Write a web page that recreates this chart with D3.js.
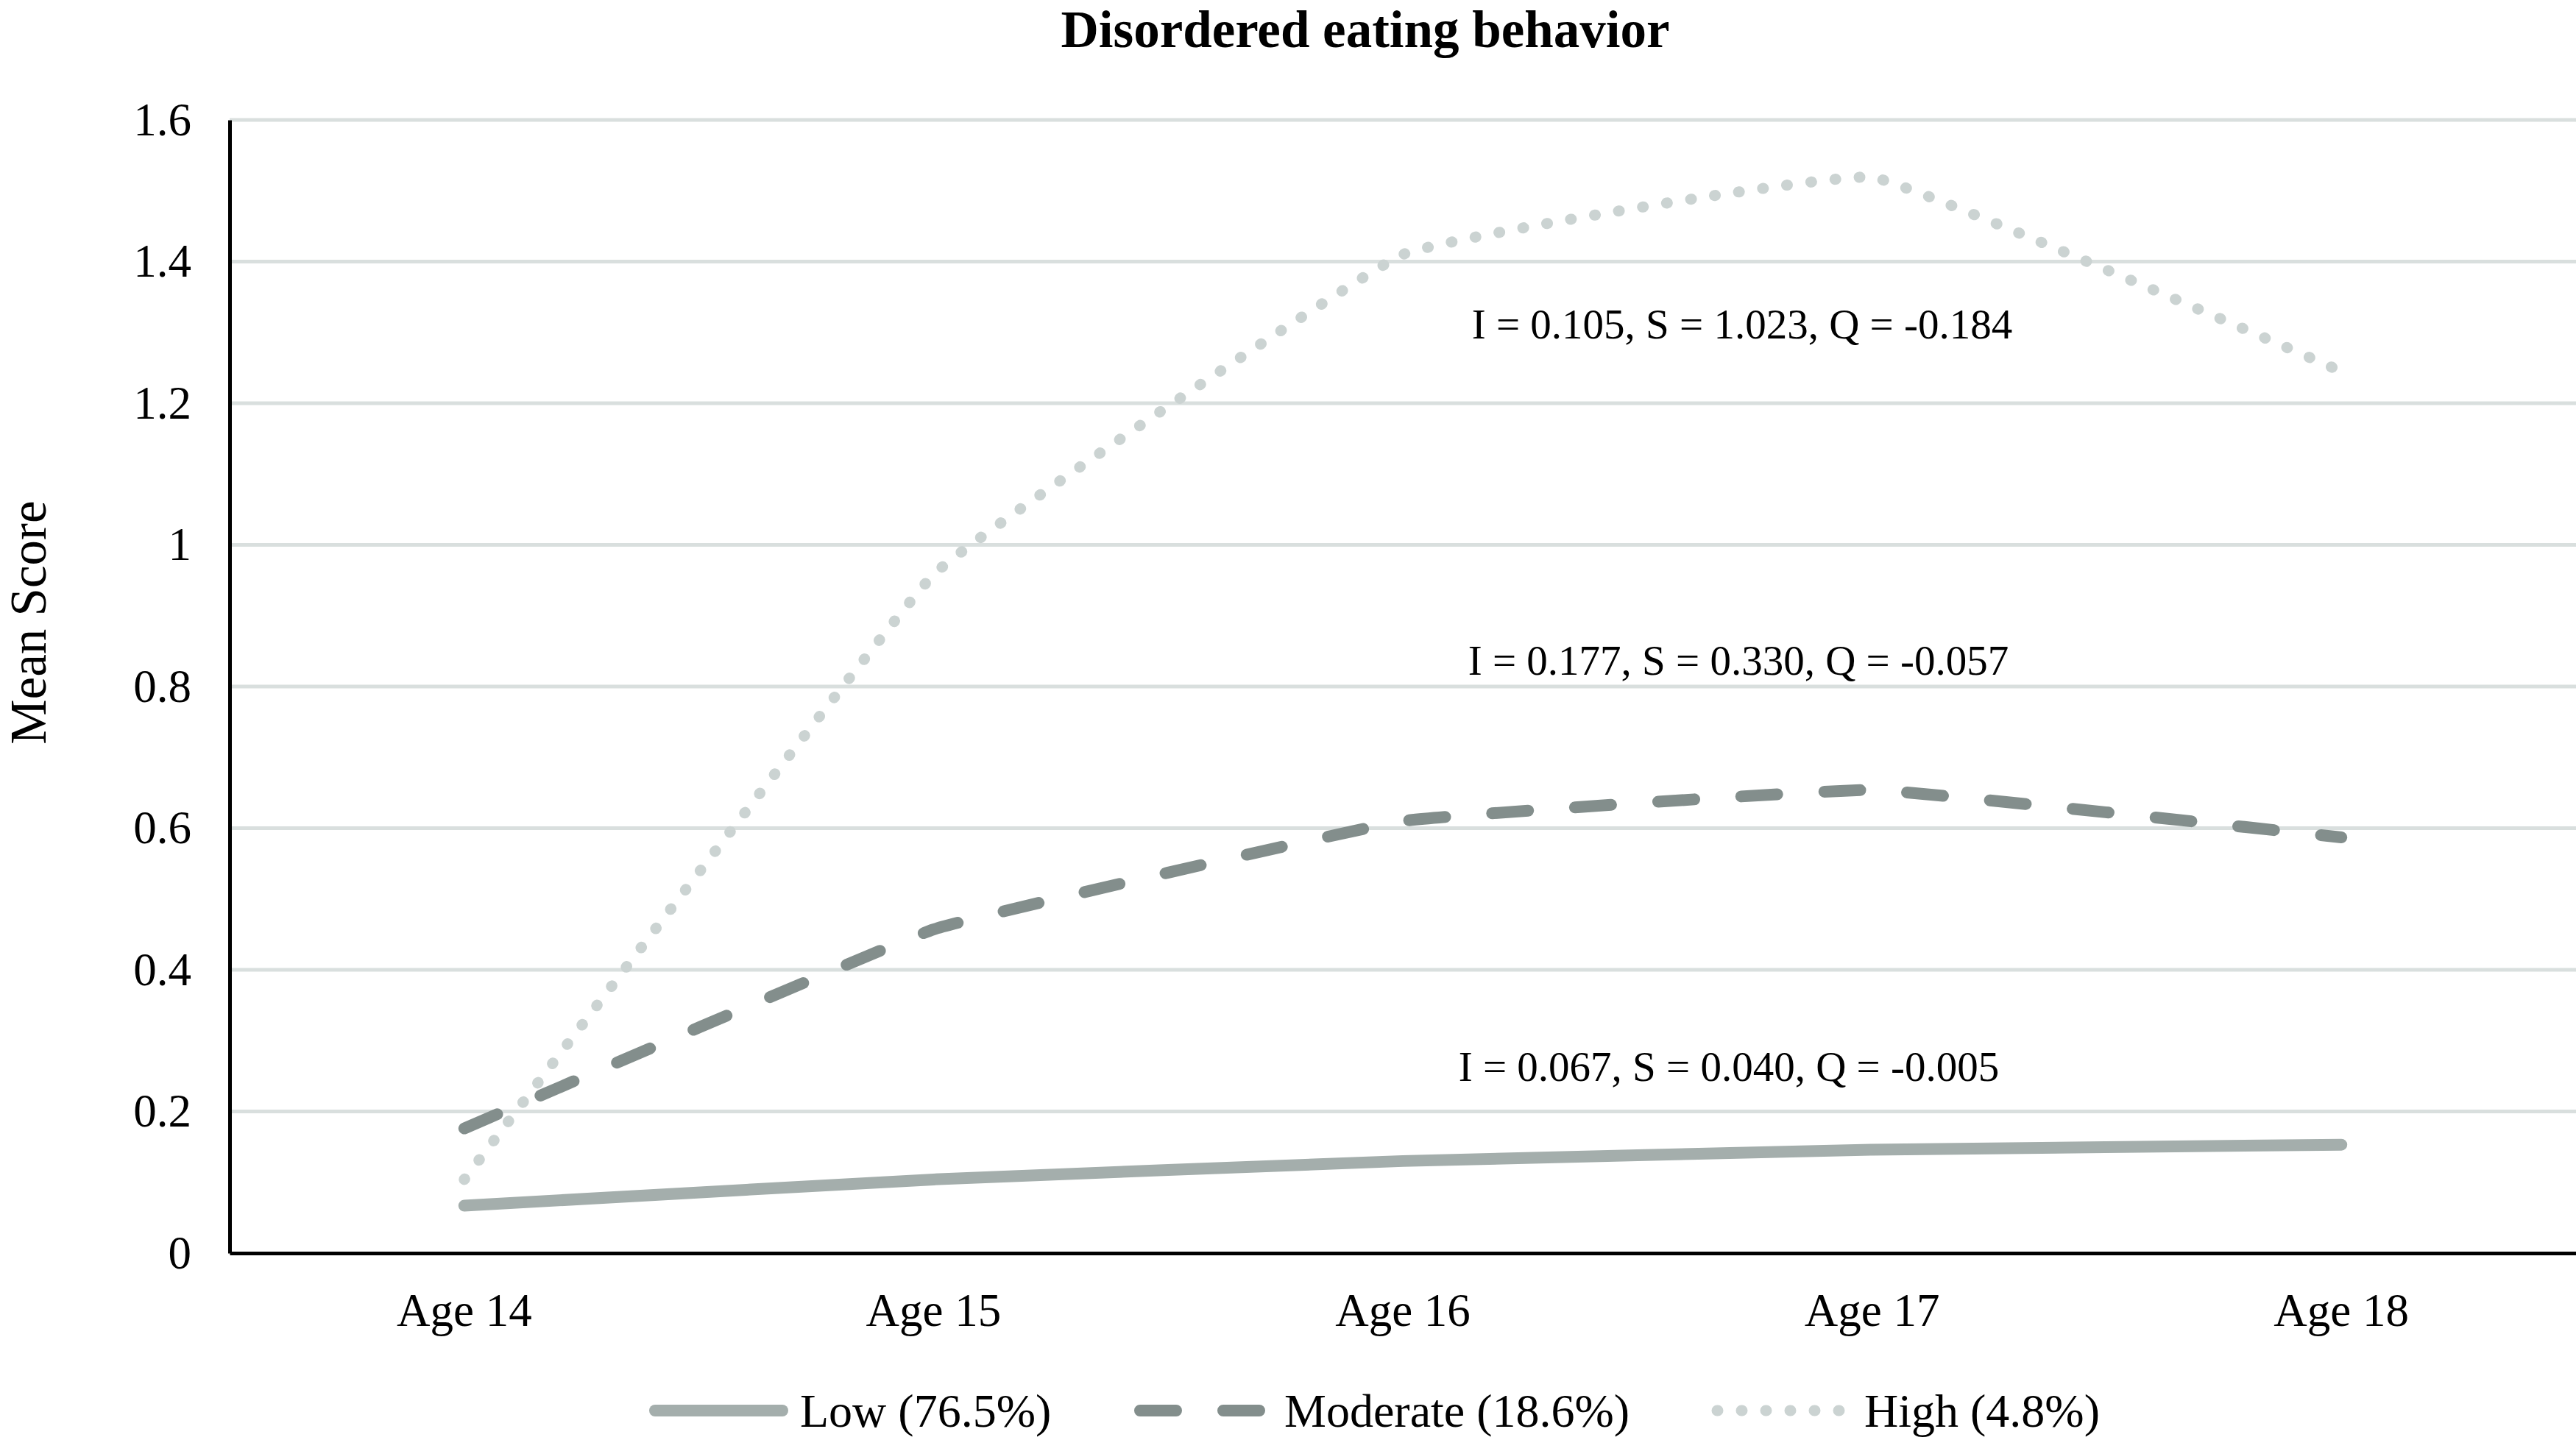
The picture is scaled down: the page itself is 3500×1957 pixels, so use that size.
<!DOCTYPE html>
<html>
<head>
<meta charset="utf-8">
<script src="https://cdn.jsdelivr.net/npm/d3@7"></script>
<style>
  html, body { margin: 0; padding: 0; background: #ffffff; }
  svg { display: block; }
  text { font-family: "Liberation Serif", "Times New Roman", serif; fill: #000; }
</style>
</head>
<body>
<svg id="chart" width="3500" height="1957"></svg>
<script>
// ---- data ----
const categories = ["Age 14", "Age 15", "Age 16", "Age 17", "Age 18"];
const lowValues = [0.067, 0.104, 0.130, 0.146, 0.153];
const moderateValues = [0.176, 0.457, 0.610, 0.654, 0.587];
const highValues = [0.104, 0.958, 1.410, 1.519, 1.245];
const yTickValues = [0, 0.2, 0.4, 0.6, 0.8, 1.0, 1.2, 1.4, 1.6];
const seriesNames = ["Low (76.5%)", "Moderate (18.6%)", "High (4.8%)"];
const annotationTexts = [
  "I = 0.067, S = 0.040, Q = -0.005",
  "I = 0.177, S = 0.330, Q = -0.057",
  "I = 0.105, S = 1.023, Q = -0.184"
];
const titleText = "Disordered eating behavior";
const yAxisTitle = "Mean Score";

// ---- layout / styles ----
const svg = d3.select("#chart");
const plot = { left: 312, right: 3500, top: 163, bottom: 1703 };

const x = d3.scaleBand().domain(categories).range([plot.left, plot.right]);
const y = d3.scaleLinear().domain([0, 1.6]).range([plot.bottom, plot.top]);
const cx = c => x(c) + x.bandwidth() / 2;

const styles = [
  { color: "#a4aeac", width: 16, dash: null },
  { color: "#838e8c", width: 16, dash: "49,64" },
  { color: "#cbd3d2", width: 15, dash: "1,32" }
];
const seriesValues = [lowValues, moderateValues, highValues];

// gridlines
svg.append("g")
  .selectAll("line")
  .data(yTickValues.filter(v => v > 0))
  .join("line")
  .attr("x1", plot.left).attr("x2", plot.right)
  .attr("y1", d => y(d)).attr("y2", d => y(d))
  .attr("stroke", "#d9dfde").attr("stroke-width", 5);

// y axis
const yAxis = d3.axisLeft(y).tickValues(yTickValues).tickSize(0).tickPadding(52)
  .tickFormat(d => String(+d.toFixed(1)));
const gy = svg.append("g").attr("transform", `translate(${plot.left},0)`).call(yAxis);
gy.select(".domain").attr("stroke", "#000").attr("stroke-width", 5);
gy.selectAll("text").attr("font-size", 63).attr("font-family", "Liberation Serif").attr("fill", "#000");

// x axis
const xAxis = d3.axisBottom(x).tickSize(0).tickPadding(54);
const gx = svg.append("g").attr("transform", `translate(0,${plot.bottom})`).call(xAxis);
gx.select(".domain").attr("stroke", "#000").attr("stroke-width", 5);
gx.selectAll("text").attr("font-size", 63).attr("font-family", "Liberation Serif").attr("fill", "#000");

// lines
const line = d3.line()
  .x((d, i) => cx(categories[i]))
  .y(d => y(d))
  .curve(d3.curveCardinal.tension(0.75));

seriesValues.forEach((vals, si) => {
  const s = styles[si];
  svg.append("path")
    .datum(vals)
    .attr("d", line)
    .attr("fill", "none")
    .attr("stroke", s.color)
    .attr("stroke-width", s.width)
    .attr("stroke-linecap", "round")
    .attr("stroke-linejoin", "round")
    .attr("stroke-dasharray", s.dash);
});

// annotations
const annoPos = [
  { x: 2349, y: 1469 },
  { x: 2362, y: 917 },
  { x: 2367, y: 460 }
];
svg.append("g").selectAll("text")
  .data(annotationTexts)
  .join("text")
  .attr("x", (d, i) => annoPos[i].x)
  .attr("y", (d, i) => annoPos[i].y)
  .attr("text-anchor", "middle")
  .attr("font-size", 57)
  .text(d => d);

// title
svg.append("text")
  .attr("x", 1855).attr("y", 64)
  .attr("text-anchor", "middle")
  .attr("font-size", 71).attr("font-weight", "bold")
  .text(titleText);

// y axis title
svg.append("text")
  .attr("transform", "translate(62,846) rotate(-90)")
  .attr("text-anchor", "middle")
  .attr("font-size", 69)
  .text(yAxisTitle);

// legend
const legendY = 1917;
const legendItems = [
  { x1: 890, x2: 1063, tx: 1087 },
  { x1: 1549, x2: 1712, tx: 1745 },
  { x1: 2333, x2: 2510, tx: 2533 }
];
const lg = svg.append("g");
seriesNames.forEach((name, i) => {
  const s = styles[i], it = legendItems[i];
  lg.append("line")
    .attr("x1", it.x1).attr("x2", it.x2)
    .attr("y1", legendY).attr("y2", legendY)
    .attr("stroke", s.color).attr("stroke-width", s.width)
    .attr("stroke-linecap", "round")
    .attr("stroke-dasharray", s.dash);
  lg.append("text")
    .attr("x", it.tx).attr("y", legendY)
    .attr("dy", "0.35em")
    .attr("font-size", 64)
    .text(name);
});
</script>
</body>
</html>
